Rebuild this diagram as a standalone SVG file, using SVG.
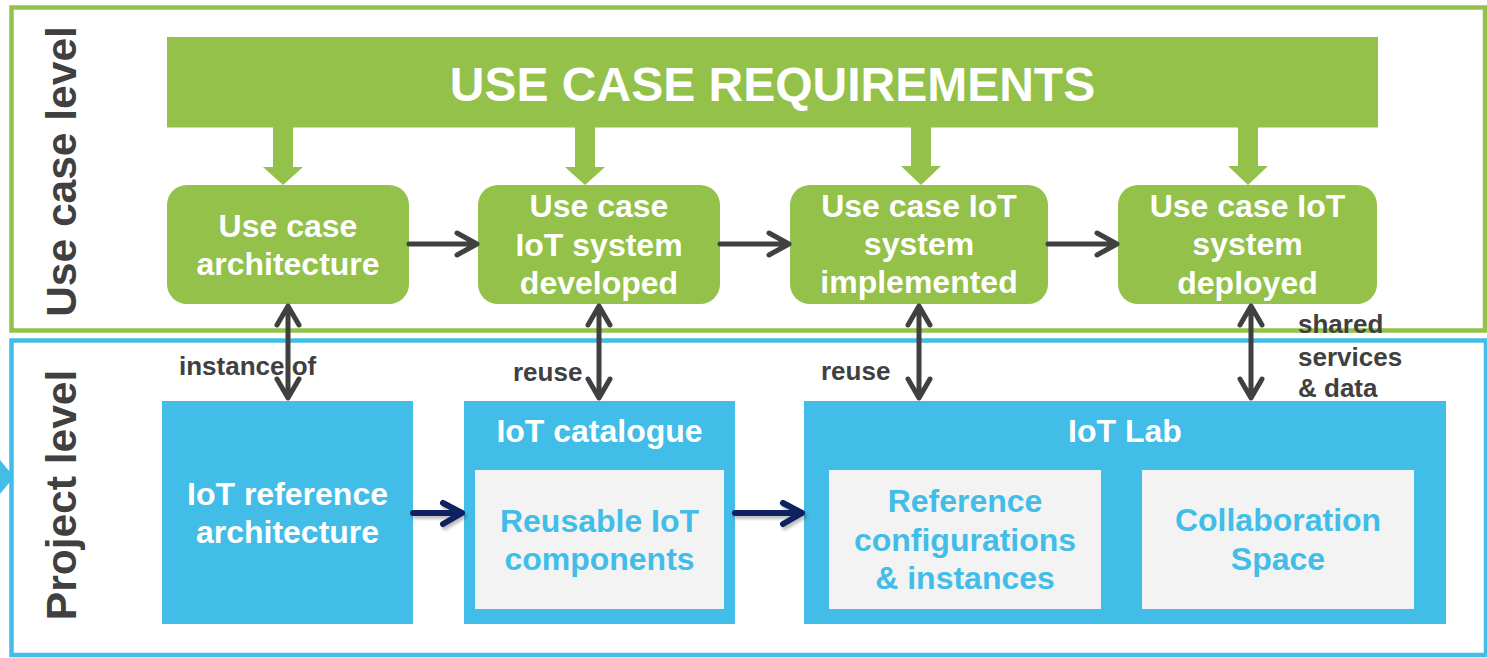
<svg xmlns="http://www.w3.org/2000/svg" width="1487" height="658" viewBox="0 0 1487 658">
<defs>
<style>
.t{font-family:"Liberation Sans",Arial,sans-serif;font-weight:bold}
.w{fill:#ffffff}
.b{fill:#41BDE8}
.g{fill:#404040}
.gn{fill:#93C149}
.bl{fill:#41BDE8}
.in{fill:#F3F3F3}
.ga{fill:none;stroke:#404040;stroke-width:5;stroke-linecap:round;stroke-linejoin:round}
.na{fill:none;stroke:#0E2262;stroke-width:6;stroke-linecap:round;stroke-linejoin:round}
.ns{fill:none;stroke:#000;stroke-opacity:0.25;stroke-width:6;stroke-linecap:round;stroke-linejoin:round}
</style>
<filter id="sh" x="-20%" y="-50%" width="140%" height="200%"><feGaussianBlur stdDeviation="1.5"/></filter>
</defs>
<rect width="1487" height="658" fill="#ffffff"/>
<g id="frames">
<rect x="11.5" y="7.5" width="1473.5" height="323" fill="none" stroke="#93C149" stroke-width="4.5"/>
<rect x="11.5" y="340.5" width="1474.5" height="314.5" fill="none" stroke="#41BDE8" stroke-width="4.5"/>
<polygon points="0,460 14,477 0,494" fill="#41BDE8"/>
</g>
<g id="side-labels">
<text class="t g" font-size="42.5" text-anchor="middle" transform="translate(76,171.5) rotate(-90)">Use case level</text>
<text class="t g" font-size="42.5" text-anchor="middle" transform="translate(76,495) rotate(-90)">Project level</text>
</g>
<g id="use-case-requirements">
<rect class="gn" x="167" y="37" width="1211" height="90.5"/>
<text class="t w" font-size="48" x="772.5" y="101" text-anchor="middle">USE CASE REQUIREMENTS</text>
</g>
<g id="req-arrows">
<polygon class="gn" points="273,127 293,127 293,167 303,167 283,185 263,167 273,167"/>
<polygon class="gn" points="575,127 595,127 595,167 605,167 585,185 565,167 575,167"/>
<polygon class="gn" points="911,127 931,127 931,166 941,166 921,185 901,166 911,166"/>
<polygon class="gn" points="1238,127 1258,127 1258,166 1268,166 1248,185 1228,166 1238,166"/>
</g>
<g id="uc-architecture">
<rect class="gn" x="167" y="185" width="242" height="119" rx="20"/>
<text class="t w" font-size="32" text-anchor="middle"><tspan x="288" y="237">Use case</tspan><tspan x="288" y="275">architecture</tspan></text>
</g>
<g id="uc-developed">
<rect class="gn" x="478" y="185" width="242" height="119" rx="20"/>
<text class="t w" font-size="32" text-anchor="middle"><tspan x="599" y="217">Use case</tspan><tspan x="599" y="256">IoT system</tspan><tspan x="599" y="294">developed</tspan></text>
</g>
<g id="uc-implemented">
<rect class="gn" x="790" y="185" width="258" height="119" rx="20"/>
<text class="t w" font-size="32" text-anchor="middle"><tspan x="919" y="217">Use case IoT</tspan><tspan x="919" y="255">system</tspan><tspan x="919" y="293">implemented</tspan></text>
</g>
<g id="uc-deployed">
<rect class="gn" x="1118" y="185" width="259" height="119" rx="20"/>
<text class="t w" font-size="32" text-anchor="middle"><tspan x="1247.5" y="217">Use case IoT</tspan><tspan x="1247.5" y="255">system</tspan><tspan x="1247.5" y="294">deployed</tspan></text>
</g>
<g id="iot-ref-arch">
<rect class="bl" x="162" y="401" width="251" height="223"/>
<text class="t w" font-size="32" text-anchor="middle"><tspan x="287.5" y="505">IoT reference</tspan><tspan x="287.5" y="543">architecture</tspan></text>
</g>
<g id="iot-catalogue">
<rect class="bl" x="464" y="401" width="271" height="223"/>
<text class="t w" font-size="32" x="599.5" y="442" text-anchor="middle">IoT catalogue</text>
<rect class="in" x="475" y="470" width="249" height="139"/>
<text class="t b" font-size="32" text-anchor="middle"><tspan x="599.5" y="532">Reusable IoT</tspan><tspan x="599.5" y="570">components</tspan></text>
</g>
<g id="iot-lab">
<rect class="bl" x="804" y="401" width="642" height="223"/>
<text class="t w" font-size="32" x="1125" y="442" text-anchor="middle">IoT Lab</text>
<rect class="in" x="829" y="470" width="272" height="139"/>
<text class="t b" font-size="32" text-anchor="middle"><tspan x="965" y="512">Reference</tspan><tspan x="965" y="551">configurations</tspan><tspan x="965" y="589">&amp; instances</tspan></text>
<rect class="in" x="1142" y="470" width="272" height="139"/>
<text class="t b" font-size="32" text-anchor="middle"><tspan x="1278" y="531">Collaboration</tspan><tspan x="1278" y="570">Space</tspan></text>
</g>
<g id="connectors">
<path class="ga" d="M409,244 H475 M457,233 L477,244 L457,255"/>
<path class="ga" d="M720,244 H787 M769,233 L789,244 L769,255"/>
<path class="ga" d="M1048,244 H1115 M1097,233 L1117,244 L1097,255"/>
<path class="ga" d="M288,308 V397 M277,325 L288,306 L299,325 M277,379 L288,398 L299,379"/>
<path class="ga" d="M599,308 V397 M588,325 L599,306 L610,325 M588,379 L599,398 L610,379"/>
<path class="ga" d="M919,308 V397 M908,325 L919,306 L930,325 M908,379 L919,398 L930,379"/>
<path class="ga" d="M1251,308 V397 M1240,325 L1251,306 L1262,325 M1240,379 L1251,398 L1262,379"/>
<g filter="url(#sh)" transform="translate(2,3)">
<path class="ns" d="M413,513 H460 M443,503 L462,513 L443,524"/>
<path class="ns" d="M735,513 H800 M783,503 L802,513 L783,524"/>
</g>
<path class="na" d="M413,513 H460 M443,503 L462,513 L443,524"/>
<path class="na" d="M735,513 H800 M783,503 L802,513 L783,524"/>
</g>
<g id="labels">
<text class="t g" font-size="26" x="179" y="375">instance of</text>
<text class="t g" font-size="26" x="513" y="381">reuse</text>
<text class="t g" font-size="26" x="821" y="380">reuse</text>
<text class="t g" font-size="26"><tspan x="1298" y="333">shared</tspan><tspan x="1298" y="366">services</tspan><tspan x="1298" y="397">&amp; data</tspan></text>
</g>
</svg>
